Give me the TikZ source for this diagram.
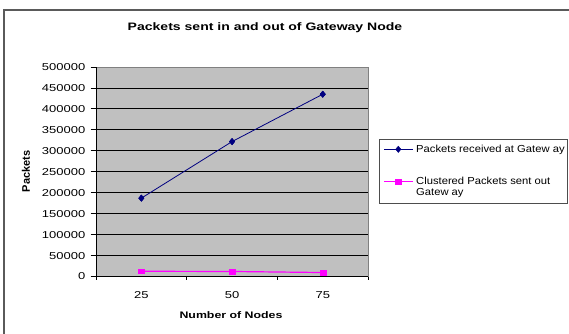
\documentclass[tikz,border=0pt]{standalone}
\usepackage{fontspec}
\setmainfont[FakeStretch=1.3]{Liberation Sans}
\newfontfamily\legendfont[FakeStretch=1.1]{Liberation Sans}
\newfontfamily\uprightlabel{Liberation Sans}
\usetikzlibrary{shapes.geometric}
\definecolor{plotgray}{HTML}{C0C0C0}
\definecolor{framegray}{HTML}{808080}
\definecolor{seriesblue}{HTML}{000080}
\definecolor{seriespink}{HTML}{FF00FF}
\tikzset{
  ticklabel/.style={font=\fontsize{10}{12}\selectfont, inner sep=0pt},
  axistitle/.style={font=\fontsize{9.5}{11}\selectfont\bfseries, inner sep=0pt},
  gridline/.style={black, line width=0.9pt},
  bluemark/.style={diamond, fill=seriesblue, draw=seriesblue, minimum width=5.5pt, minimum height=6.5pt, inner sep=0pt},
  pinkmark/.style={rectangle, fill=seriespink, draw=seriespink, minimum width=6pt, minimum height=4.6pt, inner sep=0pt},
  blueline/.style={seriesblue, line width=0.8pt},
  pinkline/.style={seriespink, line width=1.2pt},
  legendtext/.style={font=\legendfont\fontsize{10.2}{10.8}\selectfont, inner sep=0pt, align=left}
}
\begin{document}
\begin{tikzpicture}[x=1pt,y=-1pt]
\useasboundingbox (0,0) rectangle (569,333);
\clip (0,0) rectangle (569,333);
\fill[white] (0,0) rectangle (569,333);

% chart frame, running off the page to the right and bottom
\draw[framegray!70!black, line width=1.4pt] (4,340) -- (4,10) -- (575,10);

% title
\node[font=\fontsize{10.8}{13}\selectfont\bfseries, inner sep=0pt] (title) at (265,28) {Packets sent in and out of Gateway Node};

% plot region, values in thousands of packets
\begin{scope}[shift={(0,276.5)}, y=0.419pt]
  \fill[plotgray] (96,0) rectangle (368.1,500);
  \foreach \v in {50,100,...,500} \draw[gridline] (96,\v) -- (368.1,\v);
  \draw[framegray, line width=0.8pt] (96,500) -- (368.1,500) -- (368.1,0);
  % axes and ticks
  \draw[black, line width=0.9pt] (96,500) -- (96,0) -- (368.1,0);
  \foreach \v in {0,50,...,500} \draw[black, line width=0.9pt] (90.7,\v) -- (96,\v);
  \foreach \x in {96,186.7,277.4,368.1} \draw[black, line width=0.9pt] (\x,0) -- (\x,-9.5);
  \foreach \v/\t in {0/0,50/50000,100/100000,150/150000,200/200000,250/250000,300/300000,350/350000,400/400000,450/450000,500/500000}
    \node[ticklabel, anchor=east] at (85.5,\v) {\t};

  % series: packets received at gateway
  \node[bluemark] (r1) at (141.35,187) {};
  \node[bluemark] (r2) at (232.05,322) {};
  \node[bluemark] (r3) at (322.75,435) {};
  \draw[blueline] (r1.center) -- (r2.center) -- (r3.center);
  \node[bluemark] at (r1) {};
  \node[bluemark] at (r2) {};
  \node[bluemark] at (r3) {};

  % series: clustered packets sent out gateway
  \node[pinkmark] (s1) at (141.35,12.5) {};
  \node[pinkmark] (s2) at (232.05,12) {};
  \node[pinkmark] (s3) at (322.75,9.5) {};
  \draw[pinkline] (s1.center) -- (s2.center) -- (s3.center);
\end{scope}

% category labels
\node[ticklabel] (c25) at (141.35,295) {25};
\node[ticklabel] (c50) at (232.05,295) {50};
\node[ticklabel] (c75) at (322.75,295) {75};

% axis titles
\node[axistitle] (xtitle) at (231,315) {Number of Nodes};
\node[font=\uprightlabel\fontsize{11}{13}\selectfont\bfseries, inner sep=0pt, rotate=90] (ytitle) at (26,171.5) {Packets};

% legend
\node[draw=framegray!60!black, line width=0.8pt, fill=white, minimum width=188pt, minimum height=64pt, inner sep=0pt, anchor=north west] (legend) at (379.3,139.3) {};
\coordinate (la) at (384,149.3);
\coordinate (lb) at (412.7,149.3);
\draw[blueline] (la) -- (lb);
\node[bluemark] (lm1) at (398.3,149.3) {};
\node[legendtext, anchor=west] (lt1) at (416,149.5) {Packets received at Gatew ay};
\coordinate (lc) at (384,181.7);
\coordinate (ld) at (412.7,181.7);
\draw[pinkline] (lc) -- (ld);
\node[pinkmark] (lm2) at (398.3,181.7) {};
\node[legendtext, anchor=north west] (lt2) at (416,176.8) {Clustered Packets sent out\\Gatew ay};
\end{tikzpicture}
\end{document}
